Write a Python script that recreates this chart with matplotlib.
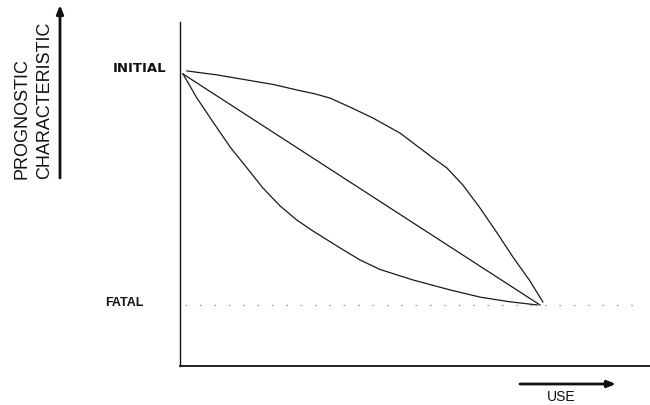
import matplotlib
matplotlib.use("Agg")
import matplotlib.pyplot as plt
import matplotlib.transforms as mtransforms

# Data: use (0 = new, 1 = end of life); prognostic characteristic (1 = initial, 0 = fatal)
upper_x = [0.011, 0.095, 0.179, 0.255, 0.319, 0.370, 0.412, 0.468, 0.532, 0.608, 0.700, 0.739, 0.784, 0.832, 0.880, 0.924, 0.972, 1.008]
upper_y = [1.009, 0.992, 0.970, 0.950, 0.927, 0.910, 0.892, 0.853, 0.806, 0.741, 0.634, 0.591, 0.517, 0.418, 0.310, 0.207, 0.103, 0.013]
linear_x = [0.0, 1.0]
linear_y = [0.996, 0.0]
lower_x = [0.0, 0.039, 0.084, 0.132, 0.179, 0.224, 0.272, 0.319, 0.364, 0.440, 0.496, 0.552, 0.644, 0.748, 0.832, 0.910, 0.992]
lower_y = [0.996, 0.892, 0.789, 0.681, 0.591, 0.504, 0.427, 0.366, 0.319, 0.246, 0.194, 0.153, 0.108, 0.065, 0.034, 0.015, 0.0]
level_values = [1.0, 0.0]
level_labels = ["INITIAL", "FATAL"]

W, H = 650, 405
fig = plt.figure(figsize=(6.5, 4.05), dpi=100)
ax = fig.add_axes([180 / W, 1 - 366 / H, 470 / W, 344 / H])
ax.set_xlim(-0.0084, 1.308)
ax.set_ylim(-0.263, 1.22)

lc = "#1a1a1a"
ax.plot(upper_x, upper_y, color=lc, lw=0.9, solid_joinstyle="round")
ax.plot(linear_x, linear_y, color=lc, lw=0.9)
ax.plot(lower_x, lower_y, color=lc, lw=0.9, solid_joinstyle="round")

# faint dotted fatal level
ax.axhline(level_values[1], xmin=0.01, xmax=0.99, color="#a0a0a0", lw=0.9,
           linestyle=(0, (1.5, 10)))

for s in ("top", "right"):
    ax.spines[s].set_visible(False)
ax.spines["left"].set_linewidth(1.0)
ax.spines["bottom"].set_linewidth(1.3)
ax.spines["left"].set_color("#111111")
ax.spines["bottom"].set_color("#111111")
ax.set_xticks([])
ax.set_yticks([])

trans = mtransforms.blended_transform_factory(fig.transFigure, ax.transData)
ax.text(166 / W, level_values[0] + 0.02, level_labels[0], transform=trans,
        ha="right", va="center", fontsize=9.5, fontweight="bold",
        family="DejaVu Sans", color="#111111")
ax.text(105 / W, level_values[1] + 0.01, level_labels[1], transform=trans,
        ha="left", va="center", fontsize=9, fontweight="bold",
        family="Liberation Sans", color="#111111")

# Axis titles (rotated) and arrows
fig.text(22 / W, 1 - 179 / H, "PROGNOSTIC", rotation=90, ha="center", va="bottom",
         fontsize=13, family="Liberation Sans", color="#111111")
fig.text(45 / W, 1 - 179 / H, "CHARACTERISTIC", rotation=90, ha="center", va="bottom",
         fontsize=13, family="Liberation Sans", color="#111111")
fig.text(561 / W, 1 - 397 / H, "USE", ha="center", va="center",
         fontsize=10, family="Liberation Sans", color="#111111")

ax.annotate("", xy=(60, H - 5), xytext=(60, H - 178), xycoords="figure pixels",
            textcoords="figure pixels",
            arrowprops=dict(arrowstyle="-|>,head_length=0.5,head_width=0.2",
                            color="#111111", lw=2.0, shrinkA=0, shrinkB=0))
ax.annotate("", xy=(616, H - 384), xytext=(520, H - 384), xycoords="figure pixels",
            textcoords="figure pixels",
            arrowprops=dict(arrowstyle="-|>,head_length=0.5,head_width=0.2",
                            color="#111111", lw=2.0, shrinkA=0, shrinkB=0))

fig.savefig("out.png", dpi=100, facecolor="white")
